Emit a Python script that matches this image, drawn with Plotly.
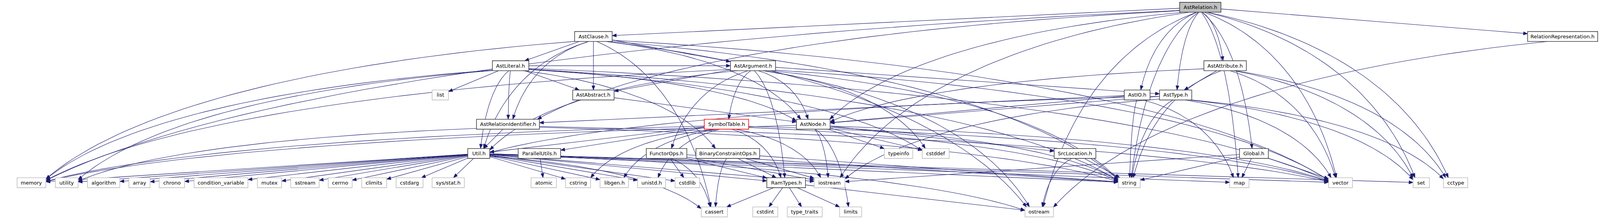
import numpy as np
import plotly.graph_objects as go

# Doxygen include graph of AstRelation.h
root = "AstRelation.h"
truncated = ["SymbolTable.h"]

project_headers = ["AstRelation.h", "AstClause.h", "RelationRepresentation.h", "AstLiteral.h",
                   "AstArgument.h", "AstAttribute.h", "AstAbstract.h", "AstIO.h", "AstType.h",
                   "AstRelationIdentifier.h", "SymbolTable.h", "AstNode.h", "Util.h",
                   "ParallelUtils.h", "FunctorOps.h", "BinaryConstraintOps.h", "SrcLocation.h",
                   "Global.h", "RamTypes.h"]

system_headers = ["list", "typeinfo", "cstddef", "memory", "utility", "algorithm", "array", "chrono",
                  "condition_variable", "mutex", "sstream", "cerrno", "climits", "cstdarg",
                  "sys/stat.h", "atomic", "cstring", "libgen.h", "unistd.h", "cstdlib", "iostream",
                  "string", "map", "vector", "set", "cctype", "cassert", "cstdint", "type_traits",
                  "limits", "ostream"]

includes = {
    "AstRelation.h": ["AstClause.h", "RelationRepresentation.h", "AstAttribute.h", "AstIO.h",
                      "AstType.h", "AstNode.h", "AstRelationIdentifier.h", "Global.h", "memory",
                      "iostream", "map", "set", "cctype", "vector", "ostream", "string"],
    "RelationRepresentation.h": ["ostream"],
    "AstClause.h": ["AstLiteral.h", "AstArgument.h", "AstAbstract.h", "AstNode.h",
                    "AstRelationIdentifier.h", "Util.h", "memory", "string", "vector",
                    "cassert", "ostream"],
    "AstLiteral.h": ["AstArgument.h", "AstAbstract.h", "AstNode.h", "AstRelationIdentifier.h",
                     "BinaryConstraintOps.h", "Util.h", "list", "memory", "utility", "string",
                     "vector", "cstddef"],
    "AstArgument.h": ["AstAbstract.h", "AstNode.h", "AstType.h", "SymbolTable.h", "FunctorOps.h",
                      "Util.h", "RamTypes.h", "memory", "string", "vector", "cstddef", "ostream"],
    "AstAttribute.h": ["AstNode.h", "AstType.h", "string", "vector", "set", "cctype"],
    "AstIO.h": ["AstNode.h", "AstRelationIdentifier.h", "string", "map"],
    "AstType.h": ["AstNode.h", "Util.h", "string", "vector", "set", "iostream", "cctype"],
    "AstAbstract.h": ["AstNode.h"],
    "AstRelationIdentifier.h": ["Util.h", "utility", "string", "vector"],
    "AstNode.h": ["SrcLocation.h", "typeinfo", "cstddef", "limits", "iostream", "memory",
                  "string", "vector"],
    "SymbolTable.h": ["ParallelUtils.h", "RamTypes.h", "Util.h", "cstring", "libgen.h",
                      "unistd.h", "iostream", "memory", "string", "vector"],
    "Util.h": ["RamTypes.h", "memory", "utility", "algorithm", "array", "chrono",
               "condition_variable", "mutex", "sstream", "cerrno", "climits", "cstdarg",
               "sys/stat.h", "cstring", "libgen.h", "unistd.h", "cstdlib", "iostream", "string",
               "map", "vector", "set", "cassert", "ostream"],
    "ParallelUtils.h": ["atomic"],
    "FunctorOps.h": ["RamTypes.h", "cassert", "cstdlib", "iostream", "string"],
    "BinaryConstraintOps.h": ["RamTypes.h", "cassert", "iostream", "string"],
    "RamTypes.h": ["cassert", "cstdint", "type_traits", "limits", "ostream"],
    "SrcLocation.h": ["string", "ostream"],
    "Global.h": ["map", "string", "vector", "iostream"],
}

# ---- layout: graph ranks and box extents in pixels (4221 x 560 image) ----
W, H = 4221, 560
ROW_Y0, ROW_STEP, BOX_H = 18.6, 74.76, 25.4

rank = {
    "AstRelation.h": 0,
    "AstClause.h": 1, "RelationRepresentation.h": 1,
    "AstLiteral.h": 2, "AstArgument.h": 2, "AstAttribute.h": 2,
    "list": 3, "AstAbstract.h": 3, "AstIO.h": 3, "AstType.h": 3,
    "AstRelationIdentifier.h": 4, "SymbolTable.h": 4, "AstNode.h": 4,
    "Util.h": 5, "ParallelUtils.h": 5, "FunctorOps.h": 5, "BinaryConstraintOps.h": 5,
    "typeinfo": 5, "cstddef": 5, "SrcLocation.h": 5, "Global.h": 5,
    "cassert": 7, "cstdint": 7, "type_traits": 7, "limits": 7, "ostream": 7,
}
box_x = {
    "AstRelation.h": (3112, 3221),
    "AstClause.h": (1516, 1615), "RelationRepresentation.h": (4030, 4215),
    "AstLiteral.h": (1299, 1395), "AstArgument.h": (1927, 2046), "AstAttribute.h": (3176, 3288),
    "list": (1140, 1183), "AstAbstract.h": (1511, 1620), "AstIO.h": (2966, 3034),
    "AstType.h": (3059, 3144),
    "AstRelationIdentifier.h": (1257, 1423), "SymbolTable.h": (1858, 1975),
    "AstNode.h": (2101, 2190),
    "Util.h": (1234, 1292), "ParallelUtils.h": (1367, 1479), "FunctorOps.h": (1705, 1812),
    "BinaryConstraintOps.h": (1836, 2004), "typeinfo": (2333, 2408), "cstddef": (2433, 2504),
    "SrcLocation.h": (2781, 2891), "Global.h": (3270, 3346),
    "memory": (45, 121), "utility": (146, 206), "algorithm": (231, 316), "array": (340, 396),
    "chrono": (420, 487), "condition_variable": (512, 654), "mutex": (679, 743),
    "sstream": (767, 842), "cerrno": (866, 929), "climits": (954, 1020),
    "cstdarg": (1045, 1116), "sys/stat.h": (1140, 1225), "atomic": (1401, 1468),
    "cstring": (1492, 1558), "libgen.h": (1583, 1658), "unistd.h": (1682, 1756),
    "cstdlib": (1781, 1846), "RamTypes.h": (2023, 2125), "iostream": (2148, 2229),
    "string": (2950, 3008), "map": (3244, 3295), "vector": (3505, 3568), "set": (3728, 3771),
    "cctype": (3808, 3872),
    "cassert": (1850, 1919), "cstdint": (1986, 2052), "type_traits": (2077, 2169),
    "limits": (2215, 2273), "ostream": (2704, 2779),
}
for n in box_x:
    rank.setdefault(n, 6)

EDGE = "#191970"
ARROW_L, ARROW_W = 11.0, 4.2


def center(n):
    x0, x1 = box_x[n]
    return np.array([(x0 + x1) / 2.0, ROW_Y0 + rank[n] * ROW_STEP])


def border_point(n, d):
    x0, x1 = box_x[n]
    hw, hh = (x1 - x0) / 2.0, BOX_H / 2.0
    tx = hw / abs(d[0]) if abs(d[0]) > 1e-9 else np.inf
    ty = hh / abs(d[1]) if abs(d[1]) > 1e-9 else np.inf
    return center(n) + min(tx, ty) * d


ex, ey, ax, ay = [], [], [], []
t = np.linspace(0, 1, 40)[:, None]
for src, targets in includes.items():
    for dst in targets:
        c0, c1 = center(src), center(dst)
        p0 = border_point(src, c1 - c0)
        p3 = border_point(dst, c0 - c1)
        d = p3 - p0
        span = rank[dst] - rank[src]
        if span >= 2:
            p1 = p0 + np.array([0.5 * d[0], 0.15 * d[1]])
            p2 = p3 - np.array([0.15 * d[0], 0.5 * d[1]])
        else:
            p1 = p0 + d / 3.0
            p2 = p0 + 2.0 * d / 3.0
        pts = ((1 - t) ** 3) * p0 + 3 * ((1 - t) ** 2) * t * p1 + 3 * (1 - t) * t * t * p2 + (t ** 3) * p3
        ex += list(pts[:, 0]) + [None]
        ey += list(pts[:, 1]) + [None]
        u = p3 - pts[-3]
        u = u / np.hypot(*u)
        nrm = np.array([-u[1], u[0]])
        base = p3 - u * ARROW_L
        tri = [p3, base + nrm * ARROW_W, base - nrm * ARROW_W, p3]
        ax += [p[0] for p in tri] + [None]
        ay += [p[1] for p in tri] + [None]

fig = go.Figure()
fig.add_trace(go.Scatter(x=ex, y=ey, mode="lines", line=dict(color=EDGE, width=1.1),
                         hoverinfo="skip", showlegend=False))
fig.add_trace(go.Scatter(x=ax, y=ay, mode="lines", fill="toself", fillcolor=EDGE,
                         line=dict(color=EDGE, width=0.8), hoverinfo="skip", showlegend=False))

shapes, annotations = [], []
for n, (x0, x1) in box_x.items():
    cy = ROW_Y0 + rank[n] * ROW_STEP
    if n == root:
        fill, border = "#bfbfbf", "#404040"
    elif n in truncated:
        fill, border = "white", "#ff0000"
    elif n in project_headers:
        fill, border = "white", "#404040"
    else:
        fill, border = "white", "#bfbfbf"
    shapes.append(dict(type="rect", xref="x", yref="y", x0=x0, x1=x1,
                       y0=cy - BOX_H / 2, y1=cy + BOX_H / 2,
                       fillcolor=fill, line=dict(color=border, width=1.6)))
    annotations.append(dict(x=(x0 + x1) / 2, y=cy, xref="x", yref="y", text=n, showarrow=False,
                            font=dict(family="DejaVu Sans", size=13, color="black"),
                            xanchor="center", yanchor="middle"))

fig.update_layout(
    width=W, height=H, autosize=False,
    margin=dict(l=0, r=0, t=0, b=0),
    paper_bgcolor="white", plot_bgcolor="white",
    shapes=shapes, annotations=annotations,
    xaxis=dict(range=[0, W], visible=False, fixedrange=True),
    yaxis=dict(range=[H, 0], visible=False, fixedrange=True),
)
# fit the figure to the real window (no page margin, no scrollbars)
fit_js = (
    "document.body.style.margin='0';document.body.style.overflow='hidden';"
    "var gd=document.getElementById('{plot_id}');"
    "var w=document.documentElement.clientWidth||window.innerWidth;"
    "var h=document.documentElement.clientHeight||window.innerHeight;"
    "if(w>200&&h>200){Plotly.relayout(gd,{width:w,height:h});}"
)
fig.write_html("out.html", config={"displayModeBar": False}, post_script=fit_js)
